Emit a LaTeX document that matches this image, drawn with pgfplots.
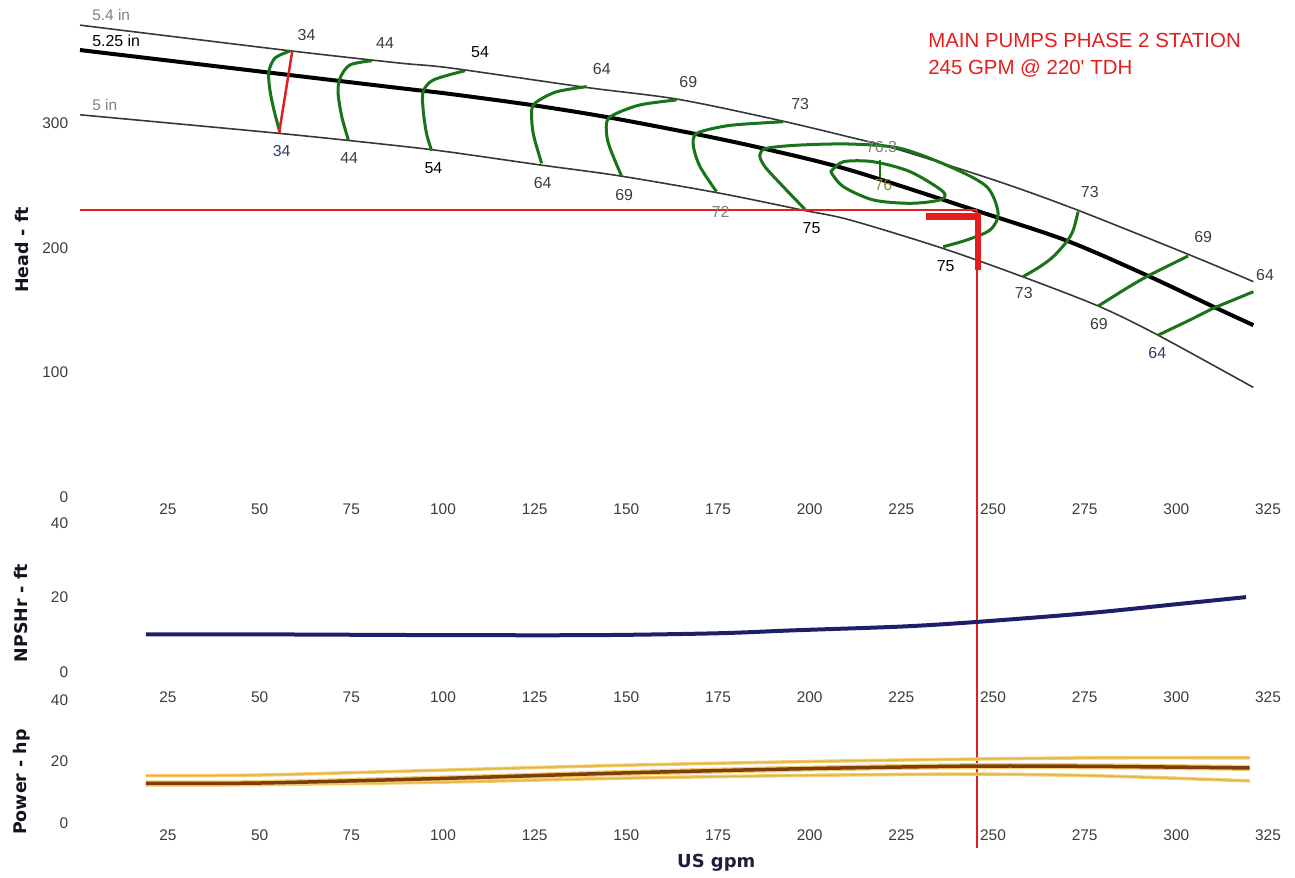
\documentclass[border=0pt]{standalone}
\usepackage{pgfplots}
\pgfplotsset{compat=1.18}
\usepackage{fontspec}
\setmainfont{Liberation Sans}
\newfontfamily\dejavu{DejaVu Sans}
\definecolor{effgreen}{RGB}{25,115,25}
\definecolor{curvegray}{RGB}{55,55,55}
\definecolor{npshblue}{RGB}{30,30,105}
\definecolor{pwrbrown}{RGB}{125,62,12}
\definecolor{pwrgold}{RGB}{225,180,70}
\definecolor{pwrhalo}{RGB}{245,205,110}
\definecolor{titlered}{RGB}{228,30,30}
\definecolor{ticklab}{RGB}{60,60,60}
\definecolor{labblue}{RGB}{50,60,110}
\definecolor{labgray}{RGB}{60,60,60}
\definecolor{labolive}{RGB}{150,140,60}
\definecolor{axlab}{RGB}{20,20,30}
\definecolor{xlab}{RGB}{30,30,60}

\tikzset{lab/.style={font=\fontsize{16}{19}\selectfont, text=labgray, inner sep=0pt}}

\pgfplotsset{
  panel/.style={
    scale only axis, width=1191.7bp, xmin=0, xmax=325,
    axis lines*=left, axis line style={draw=none}, tick style={draw=none},
    xtick={25,50,...,325},
    /pgf/number format/assume math mode=true,
    tick label style={font=\fontsize{15.5}{18}\selectfont, text=ticklab},
    xticklabel style={anchor=center, yshift=-12bp},
    yticklabel style={anchor=east, inner sep=0pt, xshift=-8bp},
    ylabel style={anchor=center, rotate=0, font=\dejavu\bfseries\fontsize{17.5}{20}\selectfont, text=axlab},
    xlabel style={anchor=center, font=\dejavu\bfseries\fontsize{18}{21}\selectfont, text=xlab},
    anchor=origin, clip=false,
  },
  eff/.style={effgreen, line width=3bp, smooth},
}

\begin{document}
\begin{tikzpicture}
\path[use as bounding box] (0bp,0bp) rectangle (1295bp,878bp);

% ---------------- Head panel ----------------
\begin{axis}[panel, at={(76.3bp,381bp)}, height=495.5bp, ymin=0, ymax=398,
  ytick={0,100,200,300},
  ylabel={Head - ft}, ylabel style={at={(axis description cs:-0.0456,0.4985)}}]

% impeller curves
\addplot[curvegray, line width=1.6bp, smooth] coordinates {
 (1,379) (58,358.5) (88,348.6) (102,344.6) (139,329) (164,319.5) (191,303)
 (211,289) (224.6,278.7) (251.9,253) (273,230.5) (304,194) (321,173)};
\addplot[black, line width=4bp, smooth] coordinates {
 (1,359) (58,339) (88,328.5) (102,323.7) (125,314.5) (145,305) (169,291.5)
 (188,279.5) (211,262.6) (246.5,229) (270,206) (292,178) (310,153) (321,138)};
\addplot[curvegray, line width=1.6bp, smooth] coordinates {
 (1,307) (55.6,292) (88,282) (102,277) (126.5,266.7) (148,258) (175.5,244)
 (198,230.5) (211,222.5) (236,200) (258,177) (279,153) (295,130) (321,88)};

% efficiency contours
\addplot[eff] coordinates {(58.3,358.2) (54.2,352.6) (52.5,341.4) (52.8,326.9) (53.9,310.8) (55.5,293.1)};
\addplot[eff] coordinates {(80.6,350.4) (74.6,347) (71.9,336.3) (71.4,324.3) (72.4,305.5) (74.2,286.7)};
\addplot[eff] coordinates {(106,342.4) (97.4,335) (94.6,325.5) (94.6,310.8) (95.5,292.1) (96.9,278.2)};
\addplot[eff] coordinates {(139.2,329.6) (131,325.5) (125.6,317.5) (124.2,310.8) (124.6,292.1) (126.9,268)};
\addplot[eff] coordinates {(163.7,318.9) (153.7,314.9) (146.4,306.8) (144.6,300.2) (145.1,284.1) (148.7,257.8)};
\addplot[eff] coordinates {(192.8,301.4) (179.2,298.8) (171.9,294.8) (168.7,290.8) (168.3,281.4) (170.1,265.3) (174.6,245.2)};
\addplot[eff] coordinates {(198.7,231.1) (192.8,249.2) (187.8,265.3) (186.4,274.7) (188.3,280.1) (197.4,282.7)
 (211,283.5) (224.6,280.1) (238.3,265.3) (248.3,249.2) (251.4,227.9) (249.2,214.5) (242.8,206.4) (236.4,201)};
\addplot[eff] coordinates {(206,262) (209.2,269.3) (217.3,269.3) (227.4,261.3) (236.4,245.2) (235.5,238.6)
 (227.4,235.9) (217.3,238.6) (209.2,249.2) (206,260) (206,262)};
\addplot[effgreen, line width=2bp] coordinates {(219.1,270.7) (219.1,257.3)};
\addplot[eff] coordinates {(273.2,229.2) (271.9,214.5) (270.1,205.1) (266.4,193) (262.8,185) (258.2,177)};
\addplot[eff] coordinates {(303.2,193.6) (297.3,185) (291.9,177) (286.4,167.6) (278.7,153.4)};
\addplot[eff] coordinates {(321,164.9) (315.5,158.2) (310.1,151.6) (303.7,142.2) (295.1,130.1)};

% red duty-point marks
\addplot[titlered, line width=2.5bp] coordinates {(58.9,358.2) (55.3,292.4)};
\addplot[titlered, line width=2.2bp] coordinates {(1,230.5) (245.6,230.5)};
\addplot[titlered, line width=2.5bp] coordinates {(245.6,230.5) (245.6,-282)};
\addplot[titlered, line width=6.5bp] coordinates {(231.7,225.3) (245.9,225.3) (245.9,182.3)};

% curve labels
\node[lab, anchor=west, text=gray, font=\fontsize{15.5}{18}\selectfont] at (4.3,387) {5.4 in};
\node[lab, anchor=west, text=black, font=\fontsize{16}{19}\selectfont] at (4.3,366.3) {5.25 in};
\node[lab, anchor=west, text=gray, font=\fontsize{15.5}{18}\selectfont] at (4.3,314.9) {5 in};

% efficiency labels (upper)
\node[lab] at (62.8,371) {34};
\node[lab] at (84.2,364.9) {44};
\node[lab, text=black] at (110.1,357.2) {54};
\node[lab] at (143.3,343.8) {64};
\node[lab] at (166.9,333.1) {69};
\node[lab] at (197.4,315.4) {73};
\node[lab, text=gray] at (219.6,281.4) {76.3};
\node[lab, text=labolive] at (220.1,250.6) {76};
\node[lab] at (276.4,245.2) {73};
\node[lab] at (307.3,208.6) {69};
\node[lab] at (324.2,178.3) {64};
% efficiency labels (lower)
\node[lab, text=labblue] at (56,278.2) {34};
\node[lab] at (74.4,272) {44};
\node[lab, text=black] at (97.4,264) {54};
\node[lab] at (127.2,252.5) {64};
\node[lab] at (149.4,242.6) {69};
\node[lab, text=gray] at (175.7,229.2) {72};
\node[lab, text=black] at (200.5,215.8) {75};
\node[lab, text=black] at (237.1,185.5) {75};
\node[lab] at (258.4,163.6) {73};
\node[lab] at (278.9,139) {69};
\node[lab, text=labblue] at (294.8,115.9) {64};

% title
\node[anchor=west, inner sep=0pt, text=titlered, font=\fontsize{20.5}{24}\selectfont] at (232.3,367) {MAIN PUMPS PHASE 2 STATION};
\node[anchor=west, inner sep=0pt, text=titlered, font=\fontsize{20.5}{24}\selectfont] at (232.3,343.8) {245 GPM @ 220\textquotesingle{} TDH};
\end{axis}

% ---------------- NPSHr panel ----------------
\begin{axis}[panel, at={(76.3bp,206bp)}, height=149bp, ymin=0, ymax=40,
  ytick={0,20,40}, xticklabel style={yshift=-13bp},
  ylabel={NPSHr - ft}, ylabel style={at={(axis description cs:-0.046,0.396)}}]
\addplot[npshblue, line width=4bp, smooth] coordinates {
 (19,10.1) (50,10.1) (100,9.9) (142,9.9) (175,10.4) (196,11.2) (225,12.2)
 (245,13.4) (276,15.8) (300,18.2) (319,20.1)};
\end{axis}

% ---------------- Power panel ----------------
\begin{axis}[panel, at={(76.3bp,55bp)}, height=123bp, ymin=0, ymax=40,
  ytick={0,20,40},
  ylabel={Power - hp}, ylabel style={at={(axis description cs:-0.046,0.333)}},
  xlabel={US gpm}, xlabel style={at={(axis description cs:0.537,-0.325)}}]
\addplot[pwrgold, line width=1.3bp, smooth, preaction={draw=pwrhalo, line width=3.5bp}] coordinates {
 (19,15.4) (50,15.6) (100,17.2) (150,18.8) (200,20.0) (245,20.8) (280,21.2) (320,21.2)};
\addplot[pwrgold, line width=1.3bp, smooth, preaction={draw=pwrhalo, line width=3.5bp}] coordinates {
 (19,12.4) (50,12.5) (100,13.3) (150,14.6) (200,15.5) (245,15.9) (280,15.3) (320,13.7)};
\addplot[pwrbrown, line width=3.5bp, smooth, preaction={draw=pwrhalo, line width=6bp}] coordinates {
 (19,12.9) (50,13.0) (100,14.5) (150,16.3) (200,17.7) (245,18.5) (280,18.4) (320,17.9)};
\end{axis}
\end{tikzpicture}
\end{document}
